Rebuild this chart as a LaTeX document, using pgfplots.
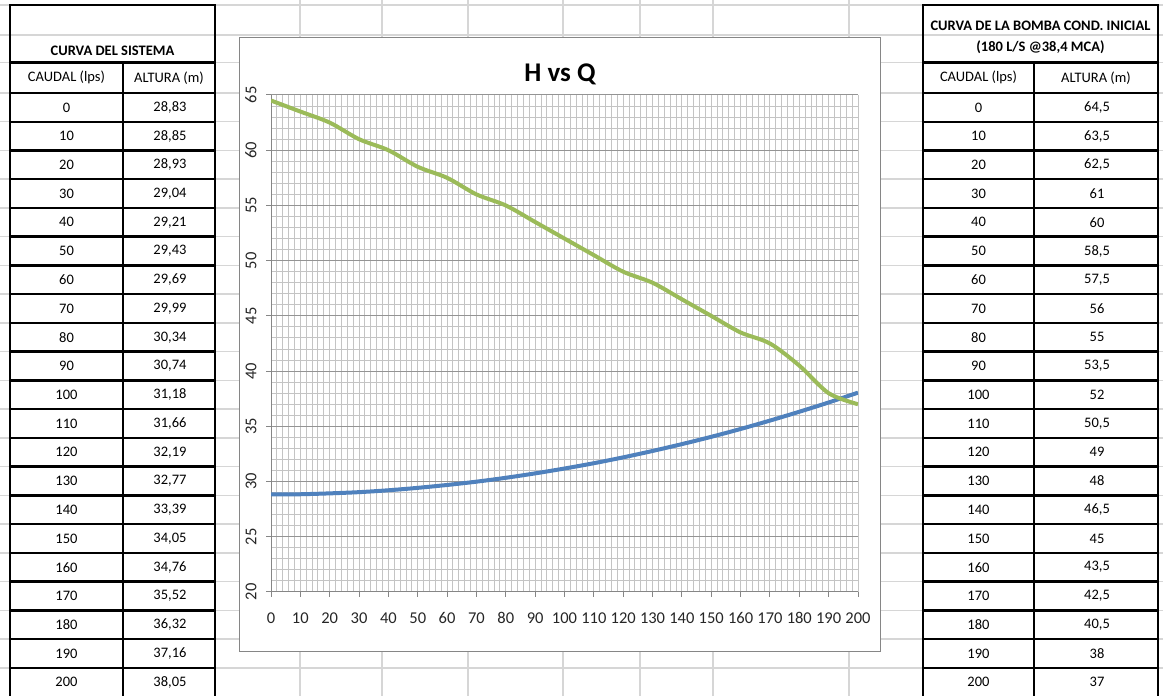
\documentclass[border=0pt]{standalone}
\usepackage{pgfplots}
\pgfplotsset{compat=1.18}
\usepackage{pgfplotstable}
\usepackage{fontspec}
\setmainfont{Carlito}
\definecolor{sheetgrid}{HTML}{D6D6D6}
\definecolor{xlblue}{HTML}{4F81BD}
\definecolor{xlgreen}{HTML}{9BBB59}
\definecolor{framegray}{HTML}{868686}
\definecolor{minorg}{HTML}{C4C4C4}
\definecolor{majorg}{HTML}{949494}

\pgfplotstableread{
Q Hs Hp
0 28.83 64.5
10 28.85 63.5
20 28.93 62.5
30 29.04 61
40 29.21 60
50 29.43 58.5
60 29.69 57.5
70 29.99 56
80 30.34 55
90 30.74 53.5
100 31.18 52
110 31.66 50.5
120 32.19 49
130 32.77 48
140 33.39 46.5
150 34.05 45
160 34.76 43.5
170 35.52 42.5
180 36.32 40.5
190 37.16 38
200 38.05 37
}\data

\begin{document}
\begin{tikzpicture}[x=1pt,y=1pt]
\useasboundingbox (0,0) rectangle (1163,696);
\begin{scope}[yshift=696pt, yscale=-1, every node/.style={font=\fontsize{14.5}{16}\selectfont}]
  % spreadsheet grid
  \foreach \y in {5,35,62.5} \draw[sheetgrid, line width=1.5pt] (0,\y) -- (1163,\y);
  \foreach \k in {0,...,21} \draw[sheetgrid, line width=1.5pt] (0,{93+28.74*\k}) -- (1163,{93+28.74*\k});
  \foreach \x in {300,382,468,563,640,713,849} \draw[sheetgrid, line width=1.5pt] (\x,0) -- (\x,700);
  % chart frame
  \draw[framegray, fill=white, line width=1pt] (239,38) rectangle (880,652);
  % left table
  \draw[black, line width=2.4pt] (10,5) rectangle (215,700);
  \draw[black, line width=2.4pt] (10,62.5) -- (215,62.5);
  \draw[black, line width=2.4pt] (123,62.5) -- (123,700);
  \foreach \k in {0,...,20} \draw[black, line width=2.4pt] (10,{93+28.74*\k}) -- (215,{93+28.74*\k});
  \node[font=\bfseries\fontsize{14.5}{16}\selectfont] at (112.5,51) {CURVA DEL SISTEMA};
  \node at (66.5,77.75) {CAUDAL (lps)};
  \node at (169,77.75) {ALTURA (m)};
  \foreach \q/\h [count=\i from 0] in {0/{28,83},10/{28,85},20/{28,93},30/{29,04},40/{29,21},50/{29,43},60/{29,69},70/{29,99},80/{30,34},90/{30,74},100/{31,18},110/{31,66},120/{32,19},130/{32,77},140/{33,39},150/{34,05},160/{34,76},170/{35,52},180/{36,32},190/{37,16},200/{38,05}}{
    \node at (66.5,{93+28.74*(\i+0.5)}) {\q};
    \node at (170,{93+28.74*(\i+0.5)}) {\h};
  }
  % right table
  \draw[black, line width=2.4pt] (923,5) rectangle (1158,700);
  \draw[black, line width=2.4pt] (923,62.5) -- (1158,62.5);
  \draw[black, line width=2.4pt] (1034,62.5) -- (1034,700);
  \foreach \k in {0,...,20} \draw[black, line width=2.4pt] (923,{93+28.74*\k}) -- (1158,{93+28.74*\k});
  \node[font=\bfseries\fontsize{14.5}{16}\selectfont] at (1040.5,26) {CURVA DE LA BOMBA COND. INICIAL};
  \node[font=\bfseries\fontsize{14.5}{16}\selectfont] at (1040.5,47) {(180 L/S @38,4 MCA)};
  \node at (978.5,77.75) {CAUDAL (lps)};
  \node at (1096,77.75) {ALTURA (m)};
  \foreach \q/\h [count=\i from 0] in {0/{64,5},10/{63,5},20/{62,5},30/61,40/60,50/{58,5},60/{57,5},70/56,80/55,90/{53,5},100/52,110/{50,5},120/49,130/48,140/{46,5},150/45,160/{43,5},170/{42,5},180/{40,5},190/38,200/37}{
    \node at (978.5,{93+28.74*(\i+0.5)}) {\q};
    \node at (1097,{93+28.74*(\i+0.5)}) {\h};
  }
\end{scope}
\node[font=\bfseries\fontsize{27}{27}\selectfont] at (560pt,622pt) {H vs Q};
\begin{axis}[
  at={(271pt,104pt)}, anchor=south west,
  scale only axis, width=587pt, height=497pt,
  xmin=0, xmax=200, ymin=20, ymax=65,
  xtick={0,10,...,200}, ytick={20,25,...,65},
  minor x tick num=4, minor y tick num=4,
  xmajorgrids, xminorgrids, ymajorgrids, yminorgrids,
  major x grid style={minorg, line width=1pt},
  minor x grid style={minorg, line width=1pt},
  major y grid style={majorg, line width=1pt},
  minor y grid style={minorg, line width=1pt},
  axis x line*=bottom, axis y line*=left,
  axis line style={framegray, line width=1pt},
  tick align=outside, major tick length=5pt, minor tick length=0pt,
  tick style={framegray, line width=1pt},
  /pgf/number format/assume math mode=true,
  xticklabel style={font=\fontsize{16.5}{18}\selectfont, text=black!85, yshift=-12pt},
  yticklabel style={font=\fontsize{16.5}{18}\selectfont, text=black!85, xshift=-6pt, rotate=90, anchor=south},
]
\addplot[xlblue, line width=4pt, smooth, no marks] table[x=Q, y=Hs] {\data};
\addplot[xlgreen, line width=4pt, smooth, no marks] table[x=Q, y=Hp] {\data};
\end{axis}
\end{tikzpicture}
\end{document}
